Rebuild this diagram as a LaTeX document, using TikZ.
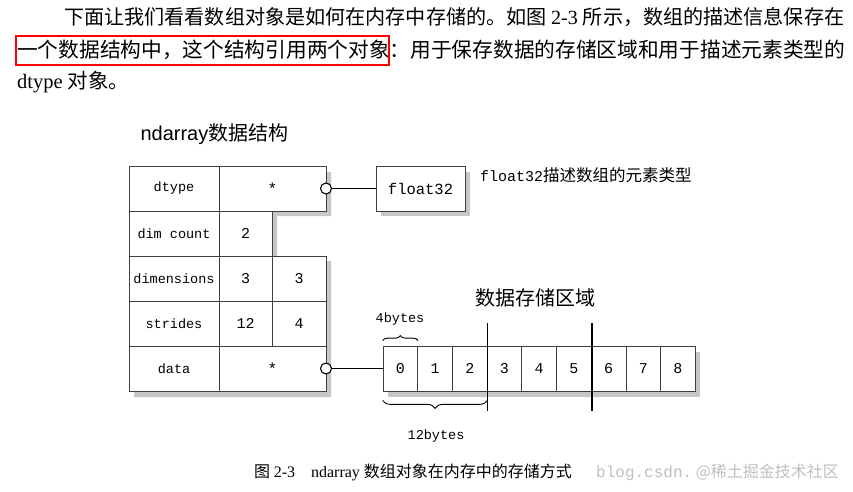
\documentclass[tikz,border=0pt]{standalone}
\usepackage{fontspec}
\setmainfont{Liberation Serif}
\newfontfamily\cjk{Noto Sans CJK SC}
\newfontfamily\mono{Liberation Mono}
\usetikzlibrary{decorations.pathreplacing,calc}
\begin{document}
\begin{tikzpicture}[x=1pt,y=-1pt,
  cell/.style={draw=black!75,line width=0.7pt,fill=white},
  shad/.style={fill=black!22},
  lbl/.style={font=\mono\fontsize{13.5}{13.5}\selectfont},
  body/.style={anchor=west,inner sep=0},
  ptr/.style={line width=1.1pt},
  dot/.style={circle,draw,line width=1.1pt,fill=white,inner sep=0,minimum size=11pt}]
\useasboundingbox (0,0) rectangle (853,492);
% body text
\node[body,font=\fontsize{20.1}{20}\selectfont] (l1) at (64,17) {\cjk 下面让我们看看数组对象是如何在内存中存储的。如图 \rmfamily 2-3 \cjk 所示，数组的描述信息保存在};
\node[body,font=\fontsize{20.7}{20}\selectfont] (l2) at (17,50) {\cjk 一个数据结构中，这个结构引用两个对象：用于保存数据的存储区域和用于描述元素类型的};
\node[body,font=\fontsize{20.5}{20}\selectfont] (l3) at (17,82) {dtype \cjk 对象。};
\draw[red,line width=1.6pt] (16,36) rectangle (389,65);
% shadows
\fill[shad] (134,172) -- (331,172) -- (331,216) -- (277,216) -- (277,261) -- (331,261) -- (331,397) -- (134,397) -- cycle;
\fill[shad] (381,172) rectangle (470,216);
\fill[shad] (388,352) rectangle (700,397);
% title
\node[font=\cjk\fontsize{20}{20}\selectfont,anchor=west] (title) at (137,134) {\fontspec{Liberation Sans}ndarray\cjk 数据结构};
% table
\node[cell,minimum width=90pt,minimum height=45pt,lbl] (r1l) at (174,188.5) {dtype};
\node[cell,minimum width=107pt,minimum height=45pt,lbl,font=\mono\fontsize{16}{16}\selectfont] (r1v) at (272.5,188.5) {*};
\node[cell,minimum width=90pt,minimum height=45pt,lbl] (r2l) at (174,233.5) {dim count};
\node[cell,minimum width=53pt,minimum height=45pt,lbl,font=\mono\fontsize{15}{15}\selectfont] (r2v) at (245.5,233.5) {2};
\node[cell,minimum width=90pt,minimum height=45pt,lbl] (r3l) at (174,278.5) {dimensions};
\node[cell,minimum width=53pt,minimum height=45pt,lbl,font=\mono\fontsize{15}{15}\selectfont] (r3a) at (245.5,278.5) {3};
\node[cell,minimum width=54pt,minimum height=45pt,lbl,font=\mono\fontsize{15}{15}\selectfont] (r3b) at (299,278.5) {3};
\node[cell,minimum width=90pt,minimum height=45pt,lbl] (r4l) at (174,323.5) {strides};
\node[cell,minimum width=53pt,minimum height=45pt,lbl,font=\mono\fontsize{15}{15}\selectfont] (r4a) at (245.5,323.5) {12};
\node[cell,minimum width=54pt,minimum height=45pt,lbl,font=\mono\fontsize{15}{15}\selectfont] (r4b) at (299,323.5) {4};
\node[cell,minimum width=90pt,minimum height=45pt,lbl] (r5l) at (174,368.5) {data};
\node[cell,minimum width=107pt,minimum height=45pt,lbl,font=\mono\fontsize{16}{16}\selectfont] (r5v) at (272.5,368.5) {*};
% float32
\node[cell,minimum width=89pt,minimum height=45pt,font=\mono\fontsize{15.5}{15}\selectfont] (f32) at (420.5,188.5) {float32};
\node[anchor=west,inner sep=0] (f32d) at (480,175) {\mono\fontsize{15}{15}\selectfont float32\cjk\fontsize{16.5}{16}\selectfont 描述数组的元素类型};
% array cells
\foreach \i in {0,...,8} {
  \node[cell,minimum width=34.7pt,minimum height=45pt,font=\mono\fontsize{15}{15}\selectfont] (c\i) at ({383+34.7*\i+17.35},368.5) {\i};
}
\node[font=\cjk\fontsize{20}{20}\selectfont] (area) at (535,298) {数据存储区域};
\coordinate (v1t) at (487.5,323); \coordinate (v1b) at (487.5,411);
\coordinate (v2t) at (592,323); \coordinate (v2b) at (592,411);
\draw[line width=1.6pt] (v1t) -- (v1b);
\draw[line width=1.6pt] (v2t) -- (v2b);
% pointers
\node[dot] (d1) at (326,188.5) {};
\node[dot] (d2) at (326,368.5) {};
\draw[ptr] (d1) -- (f32.west);
\draw[ptr] (d2) -- (c0.west);
% braces
\draw[decorate,decoration={brace,amplitude=5pt},line width=0.9pt] ($(c0.north west)+(0,-5)$) -- ($(c0.north east)+(0,-5)$);
\node[lbl] (b4) at (400,319) {4bytes};
\draw[decorate,decoration={brace,amplitude=8pt,mirror},line width=0.9pt] ($(c0.south west)+(0,9)$) -- ($(c2.south east)+(0,9)$);
\node[lbl] (b12) at (436,436) {12bytes};
% caption
\node[anchor=west,inner sep=0,font=\fontsize{16}{16}\selectfont] (cap) at (254,472) {\cjk 图 \rmfamily 2-3\quad ndarray \cjk 数组对象在内存中的存储方式};
\node[anchor=west,inner sep=0,text=black!25,font=\fontsize{16}{16}\selectfont] (wm) at (596,472) {\mono blog.csdn.\cjk\ @稀土掘金技术社区};
\end{tikzpicture}
\end{document}
